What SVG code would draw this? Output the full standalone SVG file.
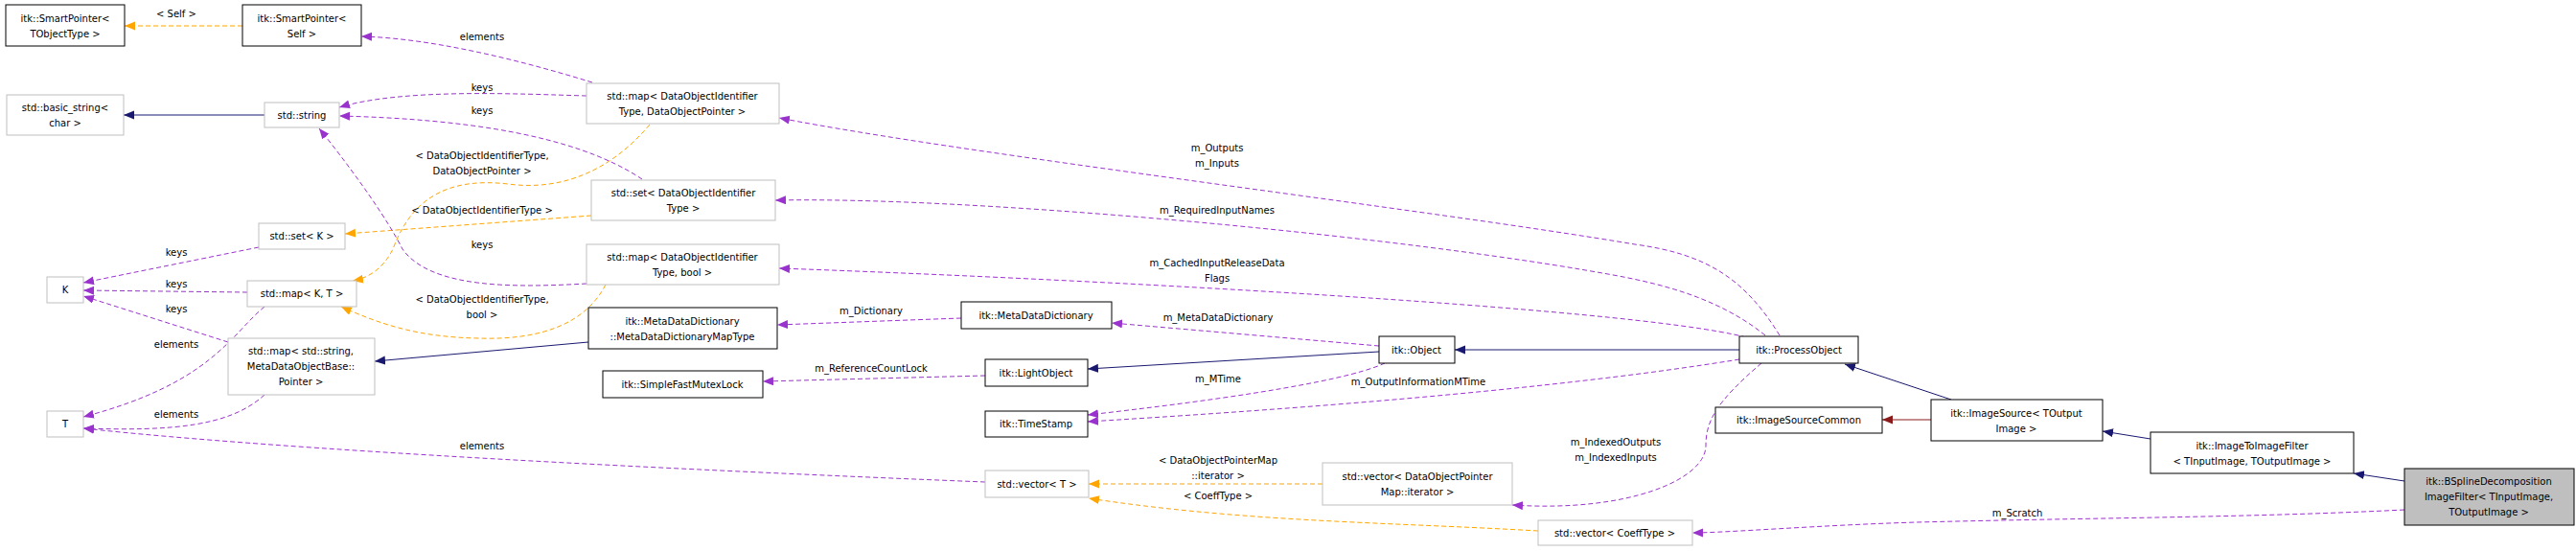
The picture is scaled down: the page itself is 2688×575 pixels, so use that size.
<svg xmlns="http://www.w3.org/2000/svg" width="2688" height="575" viewBox="0 0 2688 575">
<style>
text{font-family:"DejaVu Sans","Liberation Sans",sans-serif;font-size:10px;fill:#000;text-anchor:middle}
.n rect{fill:#fff;stroke:#000;stroke-width:1}
.g rect{fill:#fff;stroke:#bfbfbf;stroke-width:1}
.p{fill:none;stroke:#9a32cd;stroke-dasharray:5,3}
.o{fill:none;stroke:#ffa500;stroke-dasharray:5,3}
.b{fill:none;stroke:#191970}
.r{fill:none;stroke:#8b1a1a}
</style>
<defs>
<marker id="mp" markerUnits="userSpaceOnUse" markerWidth="12" markerHeight="10" refX="11" refY="4.5" orient="auto"><path d="M0,0L11,4.5L0,9z" fill="#9a32cd"/></marker>
<marker id="mo" markerUnits="userSpaceOnUse" markerWidth="12" markerHeight="10" refX="11" refY="4.5" orient="auto"><path d="M0,0L11,4.5L0,9z" fill="#ffa500"/></marker>
<marker id="mb" markerUnits="userSpaceOnUse" markerWidth="12" markerHeight="10" refX="11" refY="4.5" orient="auto"><path d="M0,0L11,4.5L0,9z" fill="#191970"/></marker>
<marker id="mr" markerUnits="userSpaceOnUse" markerWidth="12" markerHeight="10" refX="11" refY="4.5" orient="auto"><path d="M0,0L11,4.5L0,9z" fill="#8b1a1a"/></marker>
</defs>
<rect width="2688" height="575" fill="#fff"/>
<g id="edges">
<path class="o" marker-end="url(#mo)" d="M253,27L130,27"/><text x="184" y="18">&lt; Self &gt;</text>
<path class="p" marker-end="url(#mp)" d="M618,86C540,62 450,40 377,38"/><text x="503" y="42">elements</text>
<path class="p" marker-end="url(#mp)" d="M612,100C540,98 420,92 354,112"/><text x="503" y="95">keys</text>
<path class="p" marker-end="url(#mp)" d="M670,187C600,140 480,124 354,121"/><text x="503" y="119">keys</text>
<path class="b" marker-end="url(#mb)" d="M276,120L129,120"/>
<path class="o" marker-end="url(#mo)" d="M678,130C640,175 590,200 530,192C470,185 430,205 410,260C400,280 385,290 368,293"/><text x="503" y="166">&lt; DataObjectIdentifierType,</text><text x="503" y="182">DataObjectPointer &gt;</text>
<path class="o" marker-end="url(#mo)" d="M617,225L360,244"/><text x="503" y="223">&lt; DataObjectIdentifierType &gt;</text>
<path class="p" marker-end="url(#mp)" d="M612,296C540,300 450,302 420,260C405,230 370,180 333,134"/><text x="503" y="259">keys</text>
<path class="o" marker-end="url(#mo)" d="M632,297C610,340 560,355 500,353C440,352 400,340 356,320"/><text x="503" y="316">&lt; DataObjectIdentifierType,</text><text x="503" y="332">bool &gt;</text>
<path class="p" marker-end="url(#mp)" d="M270,258L87,295"/><text x="184" y="267">keys</text>
<path class="p" marker-end="url(#mp)" d="M258,305L87,303"/><text x="184" y="300">keys</text>
<path class="p" marker-end="url(#mp)" d="M238,357L87,309"/><text x="184" y="326">keys</text>
<path class="p" marker-end="url(#mp)" d="M276,320C240,350 220,400 87,435"/><text x="184" y="363">elements</text>
<path class="p" marker-end="url(#mp)" d="M276,412C240,445 180,450 87,447"/><text x="184" y="436">elements</text>
<path class="p" marker-end="url(#mp)" d="M1028,503C700,490 300,470 87,447"/><text x="503" y="469">elements</text>
<path class="b" marker-end="url(#mb)" d="M614,357L391,377"/>
<path class="p" marker-end="url(#mp)" d="M1003,332L811,339"/><text x="909" y="328">m_Dictionary</text>
<path class="p" marker-end="url(#mp)" d="M1028,392L796,398"/><text x="909" y="388">m_ReferenceCountLock</text>
<path class="p" marker-end="url(#mp)" d="M1439,361L1160,337"/><text x="1271" y="335">m_MetaDataDictionary</text>
<path class="b" marker-end="url(#mb)" d="M1439,367L1135,385"/>
<path class="p" marker-end="url(#mp)" d="M1445,379C1400,400 1250,420 1135,433"/><text x="1271" y="399">m_MTime</text>
<path class="b" marker-end="url(#mb)" d="M1815,365L1518,365"/>
<path class="p" marker-end="url(#mp)" d="M1815,375C1600,410 1300,430 1135,440"/><text x="1480" y="402">m_OutputInformationMTime</text>
<path class="p" marker-end="url(#mp)" d="M1857,350C1820,290 1780,265 1706,255C1500,220 1000,160 813,123"/><text x="1270" y="158">m_Outputs</text><text x="1270" y="174">m_Inputs</text>
<path class="p" marker-end="url(#mp)" d="M1842,350C1780,300 1700,290 1643,280C1400,240 1000,205 809,209"/><text x="1270" y="223">m_RequiredInputNames</text>
<path class="p" marker-end="url(#mp)" d="M1822,352C1700,320 1100,290 813,280"/><text x="1270" y="278">m_CachedInputReleaseData</text><text x="1270" y="294">Flags</text>
<path class="p" marker-end="url(#mp)" d="M1838,379C1790,420 1780,440 1780,465C1780,500 1700,535 1578,527"/><text x="1686" y="465">m_IndexedOutputs</text><text x="1686" y="481">m_IndexedInputs</text>
<path class="b" marker-end="url(#mb)" d="M2036,417L1925,380"/>
<path class="r" marker-end="url(#mr)" d="M2015,438L1964,438"/>
<path class="b" marker-end="url(#mb)" d="M2244,458L2194,450"/>
<path class="b" marker-end="url(#mb)" d="M2509,502L2456,494"/>
<path class="p" marker-end="url(#mp)" d="M2509,532C2350,540 2200,540 2000,545C1900,548 1800,556 1766,556"/><text x="2105" y="539">m_Scratch</text>
<path class="o" marker-end="url(#mo)" d="M1380,505L1136,505"/><text x="1271" y="484">&lt; DataObjectPointerMap</text><text x="1271" y="500">::iterator &gt;</text>
<path class="o" marker-end="url(#mo)" d="M1605,554C1450,545 1300,545 1136,520"/><text x="1271" y="521">&lt; CoeffType &gt;</text>
</g>
<g id="SP_TObj" class="n"><rect x="6" y="5" width="124" height="43"/><text x="68" y="23">itk::SmartPointer&lt;</text><text x="68" y="39">TObjectType &gt;</text></g>
<g id="SP_Self" class="n"><rect x="253" y="5" width="124" height="43"/><text x="315" y="23">itk::SmartPointer&lt;</text><text x="315" y="39">Self &gt;</text></g>
<g id="basic_string" class="g"><rect x="7" y="99" width="122" height="42"/><text x="68" y="116">std::basic_string&lt;</text><text x="68" y="132">char &gt;</text></g>
<g id="string" class="g"><rect x="276" y="107" width="78" height="26"/><text x="315" y="124">std::string</text></g>
<g id="map_DOP" class="g"><rect x="612" y="87" width="201" height="42"/><text x="712" y="104">std::map&lt; DataObjectIdentifier</text><text x="712" y="120">Type, DataObjectPointer &gt;</text></g>
<g id="set_DOIT" class="g"><rect x="617" y="188" width="192" height="42"/><text x="713" y="205">std::set&lt; DataObjectIdentifier</text><text x="713" y="221">Type &gt;</text></g>
<g id="set_K" class="g"><rect x="270" y="233" width="90" height="27"/><text x="315" y="250">std::set&lt; K &gt;</text></g>
<g id="map_bool" class="g"><rect x="612" y="255" width="201" height="42"/><text x="712" y="272">std::map&lt; DataObjectIdentifier</text><text x="712" y="288">Type, bool &gt;</text></g>
<g id="K" class="g"><rect x="49" y="289" width="38" height="27"/><text x="68" y="306">K</text></g>
<g id="map_KT" class="g"><rect x="258" y="293" width="114" height="27"/><text x="315" y="310">std::map&lt; K, T &gt;</text></g>
<g id="map_string" class="g"><rect x="238" y="353" width="153" height="59"/><text x="314" y="370">std::map&lt; std::string,</text><text x="314" y="386">MetaDataObjectBase::</text><text x="314" y="402">Pointer &gt;</text></g>
<g id="T" class="g"><rect x="49" y="429" width="38" height="27"/><text x="68" y="446">T</text></g>
<g id="MDD_MapType" class="n"><rect x="614" y="321" width="197" height="43"/><text x="712" y="339">itk::MetaDataDictionary</text><text x="712" y="355">::MetaDataDictionaryMapType</text></g>
<g id="SFML" class="n"><rect x="629" y="387" width="167" height="28"/><text x="712" y="405">itk::SimpleFastMutexLock</text></g>
<g id="MDD" class="n"><rect x="1003" y="315" width="157" height="28"/><text x="1081" y="333">itk::MetaDataDictionary</text></g>
<g id="LightObject" class="n"><rect x="1028" y="375" width="107" height="28"/><text x="1081" y="393">itk::LightObject</text></g>
<g id="TimeStamp" class="n"><rect x="1028" y="429" width="107" height="27"/><text x="1081" y="446">itk::TimeStamp</text></g>
<g id="Object" class="n"><rect x="1439" y="351" width="79" height="28"/><text x="1478" y="369">itk::Object</text></g>
<g id="vectorT" class="g"><rect x="1028" y="491" width="108" height="28"/><text x="1082" y="509">std::vector&lt; T &gt;</text></g>
<g id="vectorDOPMI" class="g"><rect x="1380" y="483" width="198" height="44"/><text x="1479" y="501">std::vector&lt; DataObjectPointer</text><text x="1479" y="517">Map::iterator &gt;</text></g>
<g id="vectorCoeff" class="g"><rect x="1605" y="543" width="161" height="26"/><text x="1685" y="560">std::vector&lt; CoeffType &gt;</text></g>
<g id="ProcessObject" class="n"><rect x="1815" y="351" width="124" height="28"/><text x="1877" y="369">itk::ProcessObject</text></g>
<g id="ImageSourceCommon" class="n"><rect x="1790" y="425" width="174" height="27"/><text x="1877" y="442">itk::ImageSourceCommon</text></g>
<g id="ImageSource" class="n"><rect x="2015" y="417" width="179" height="43"/><text x="2104" y="435">itk::ImageSource&lt; TOutput</text><text x="2104" y="451">Image &gt;</text></g>
<g id="ImageToImageFilter" class="n"><rect x="2244" y="451" width="212" height="43"/><text x="2350" y="469">itk::ImageToImageFilter</text><text x="2350" y="485">&lt; TInputImage, TOutputImage &gt;</text></g>
<g id="BSpline" class="n"><rect x="2509" y="489" width="177" height="59" style="fill:#bfbfbf"/><text x="2597" y="506">itk::BSplineDecomposition</text><text x="2597" y="522">ImageFilter&lt; TInputImage,</text><text x="2597" y="538">TOutputImage &gt;</text></g>
</svg>
